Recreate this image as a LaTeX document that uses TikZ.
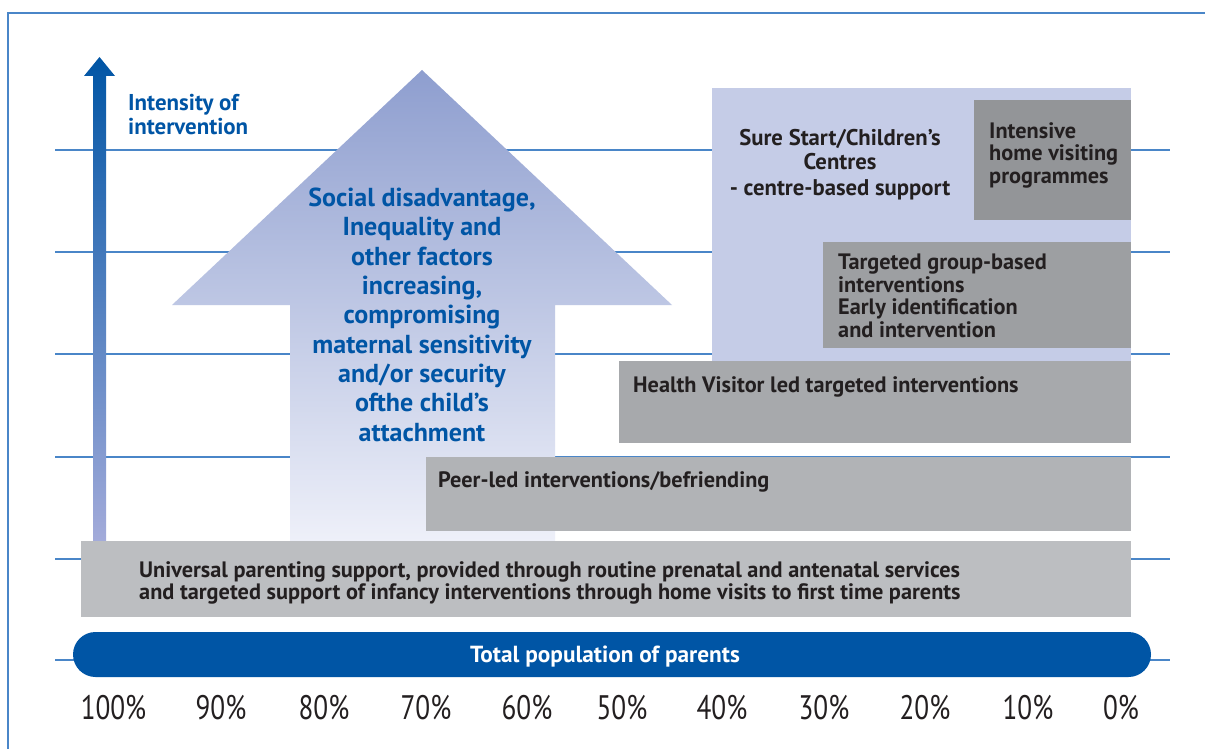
\documentclass[tikz,border=0pt]{standalone}
\usepackage{fontspec}
\setmainfont{PT Sans}
\newfontfamily\pctfont{PT Sans}[FakeStretch=0.8]
\definecolor{gridblue}{HTML}{4A86C8}
\definecolor{dkblue}{HTML}{0055A5}
\definecolor{txt}{HTML}{231F20}
\definecolor{lilac}{HTML}{C5CCE7}
\definecolor{gA}{HTML}{939598}
\definecolor{gB}{HTML}{9D9FA2}
\definecolor{gC}{HTML}{A7A9AC}
\definecolor{gD}{HTML}{B1B3B6}
\definecolor{gE}{HTML}{BCBEC1}
\definecolor{arrtop}{HTML}{8E9ECF}
\definecolor{arrmid}{HTML}{B3BBE0}
\definecolor{arrbot}{HTML}{EEF0F9}
\definecolor{leftlow}{HTML}{A3ABDA}
\definecolor{leftmid}{HTML}{3466B3}
\begin{document}
\begin{tikzpicture}[x=1pt,y=-1pt,
  box/.style={draw=none,inner sep=0pt,outer sep=0pt,anchor=north west},
  lbl/.style={inner sep=0pt,text=txt,font=\bfseries\fontsize{22.3}{22.3}\selectfont,align=left,anchor=base west},
  bluelbl/.style={inner sep=0pt,text=dkblue},
  gridline/.style={draw=gridblue,line width=1.2pt},
  pct/.style={inner sep=0pt,text=txt,font=\pctfont\fontsize{34}{36}\selectfont,anchor=base}]
\useasboundingbox (0,0) rectangle (1205,749);
\clip (0,0) rectangle (1205,749);
\fill[white] (0,0) rectangle (1205,749);
\draw[draw=gridblue,line width=1.3pt] (8,13) rectangle (1230,770);
\foreach \y in {150,252,354,457,559,660} \draw[gridline] (55,\y) -- (1170,\y);
% left intensity arrow
\shade[top color=dkblue,middle color=leftmid,bottom color=leftlow]
  (93,541) -- (93,76) -- (84,76) -- (99.5,57) -- (115,76) -- (106,76) -- (106,541) -- cycle;
% big arrow
\shade[top color=arrtop,middle color=arrmid,bottom color=arrbot]
  (290,541) -- (290,305) -- (172,305) -- (422,70) -- (672,305) -- (555,305) -- (555,541) -- cycle;
% boxes
\node[box,fill=lilac,minimum width=419,minimum height=275] (ss) at (712,88) {};
\node[box,fill=gA,minimum width=157,minimum height=120] (ihv) at (974,100) {};
\node[box,fill=gB,minimum width=308,minimum height=106] (tg) at (823,242) {};
\node[box,fill=gC,minimum width=512,minimum height=82] (hv) at (619,361) {};
\node[box,fill=gD,minimum width=705,minimum height=74] (peer) at (426,457) {};
\node[box,fill=gE,minimum width=1050,minimum height=76] (uni) at (81,541) {};
\node[box,fill=dkblue,rounded corners=22.5pt,minimum width=1078,minimum height=45] (bar) at (73,632) {};
% texts (base anchor = last line baseline)
\node[bluelbl,font=\bfseries\fontsize{22.9}{24.5}\selectfont,align=left,anchor=base west] (intt) at (128,135) {Intensity of\\intervention};
\node[bluelbl,font=\bfseries\fontsize{26}{29.3}\selectfont,align=center,anchor=base] (soct) at (422,441) {Social disadvantage,\\Inequality and\\other factors\\increasing,\\compromising\\maternal sensitivity\\and/or security\\ofthe child’s\\attachment};
\node[lbl,font=\bfseries\fontsize{22.7}{25}\selectfont,align=center,anchor=base] (sst) at (840,195) {Sure Start/Children’s\\Centres\\- centre-based support};
\node[lbl] (ihvt) at (989,183) {Intensive\\home visiting\\programmes};
\node[lbl,font=\bfseries\fontsize{22.3}{22.4}\selectfont] (tgt) at (838,337) {Targeted group-based\\interventions\\Early identification\\and intervention};
\node[lbl] (hvt) at (633,392) {Health Visitor led targeted interventions};
\node[lbl] (peert) at (438,487) {Peer-led interventions/befriending};
\node[lbl,font=\bfseries\fontsize{22.3}{22}\selectfont] (unit) at (139,599) {Universal parenting support, provided through routine prenatal and antenatal services\\and targeted support of infancy interventions through home visits to first time parents};
\node[inner sep=0pt,text=white,font=\bfseries\fontsize{23.3}{24}\selectfont,anchor=base] (bart) at (605,662) {Total population of parents};
\foreach \x/\p in {113.5/100,221/90,324/80,426/70,527/60,622/50,722/40,824/30,925/20,1028/10,1121/0}
  \node[pct] (p\p) at (\x,719) {\p\%};
\end{tikzpicture}
\end{document}
